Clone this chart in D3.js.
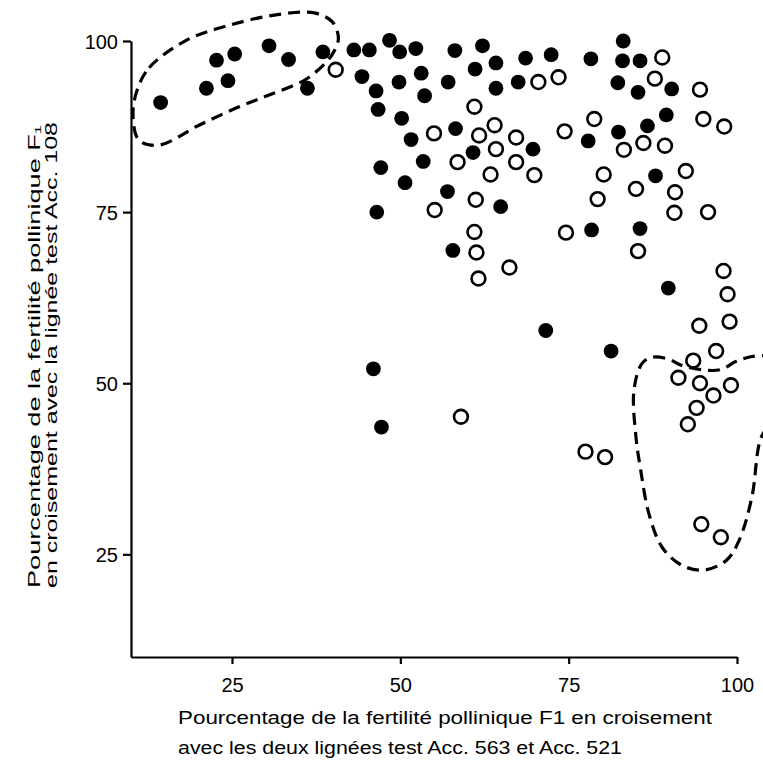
<!DOCTYPE html>
<html><head><meta charset="utf-8">
<script src="https://cdn.jsdelivr.net/npm/d3@7"></script>
<style>
body{margin:0;background:#fff}
svg text{font-family:"Liberation Sans",Arial,sans-serif;fill:#000}
</style>
</head><body>
<svg id="c" width="763" height="762"></svg>
<script>
// ---- data ----
const xTicks = [25, 50, 75, 100];
const yTicks = [25, 50, 75, 100];

const filledX = [14.4,21.2,22.7,24.4,25.4,30.5,33.4,38.5,36.2,43.1,45.4,48.4,49.9,52.3,58.1,62.2,68.6,72.4,
  44.3,46.4,49.8,53.1,57.1,61.1,64.2,64.2,67.5,53.6,46.7,50.2,51.6,58.2,60.8,69.7,53.4,47.1,50.7,57.0,46.5,64.9,57.8,
  78.3,83.1,83.0,85.6,82.3,85.3,90.3,89.5,86.7,82.4,77.9,87.9,78.4,85.6,89.8,71.6,81.3,46.0,47.2];
const filledY = [91.0,93.1,97.2,94.2,98.1,99.3,97.3,98.4,93.1,98.7,98.7,100.1,98.4,98.9,98.6,99.3,97.5,98.0,
  94.8,92.7,94.0,95.3,94.0,95.9,96.8,93.1,94.0,92.0,90.0,88.7,85.6,87.2,83.7,84.2,82.4,81.5,79.3,78.0,75.0,75.8,69.4,
  97.4,100.0,97.1,97.1,93.9,92.5,93.0,89.2,87.6,86.7,85.4,80.3,72.4,72.6,63.9,57.7,54.7,52.1,43.6];

const openX = [40.4,70.5,61.0,64.0,55.0,61.7,67.2,64.2,58.5,67.2,63.4,69.9,61.2,55.1,61.0,61.3,66.2,61.6,
  88.9,87.8,94.5,73.5,78.8,74.4,95.0,98.1,83.2,86.1,89.3,80.2,92.4,85.0,90.8,79.3,90.7,95.7,74.6,85.3,
  98.0,98.6,98.9,94.4,96.9,93.5,91.3,94.5,99.1,96.5,94.0,92.7,59.0,77.5,80.4,94.7,97.6];
const openY = [95.8,94.0,90.4,87.7,86.5,86.2,85.9,84.2,82.3,82.3,80.5,80.4,76.8,75.3,72.1,69.1,66.9,65.3,
  97.6,94.5,92.9,94.7,88.6,86.8,88.6,87.5,84.1,85.1,84.7,80.5,81.0,78.4,77.9,76.9,74.9,75.0,72.0,69.3,
  66.4,63.0,59.0,58.4,54.7,53.3,50.8,50.0,49.7,48.2,46.4,44.0,45.1,40.0,39.2,29.4,27.5];

// dashed enclosing outlines (data units)
const loopAX = [10.9,12.7,18.2,24.6,32.0,37.2,39.9,40.8,40.1,38.7,35.8,30.5,25.6,20.1,14.2,11.2,10.3];
const loopAY = [92.8,96.1,100.1,102.3,103.9,104.1,102.8,100.4,98.4,96.6,94.3,92.1,90.2,87.7,84.8,85.5,89.2];
const loopBX = [105.5,102.2,99.9,97.6,95.4,91.8,89.9,87.4,85.9,84.7,85.0,85.7,86.9,88.9,91.8,95.1,98.4,100.3,102.2,103.6,105.5];
const loopBY = [54.1,53.9,53.2,52.0,51.9,52.6,53.5,53.8,52.9,49.0,42.1,37.3,31.0,26.0,23.4,22.7,24.1,27.0,33.3,42.1,44.6];

const xLabelLines = ["Pourcentage de la fertilité pollinique F1 en croisement",
                     "avec les deux lignées  test  Acc. 563  et  Acc. 521"];
const yLabelLines = ["Pourcentage de la fertilité pollinique F\u2081",
                     "en croisement avec la lignée test Acc. 108"];

// ---- drawing ----
const svg = d3.select("#c");
const x = d3.scaleLinear().domain([10, 100]).range([131, 737]);
const y = d3.scaleLinear().domain([10, 100]).range([657, 41]);

const line = d3.line().x(d => x(d[0])).y(d => y(d[1]));

svg.append("path")
  .attr("d", line.curve(d3.curveCatmullRomClosed.alpha(0.5))(loopAX.map((v,i)=>[v, loopAY[i]])))
  .attr("fill","none").attr("stroke","#000").attr("stroke-width",3.2)
  .attr("stroke-dasharray","12,7");
svg.append("path")
  .attr("d", line.curve(d3.curveCatmullRom.alpha(0.5))(loopBX.map((v,i)=>[v, loopBY[i]])))
  .attr("fill","none").attr("stroke","#000").attr("stroke-width",3.2)
  .attr("stroke-dasharray","12,7");

const xa = svg.append("g").attr("transform","translate(0,657)")
  .call(d3.axisBottom(x).tickValues(xTicks).tickSize(7).tickSizeOuter(0).tickPadding(14));
const ya = svg.append("g").attr("transform","translate(131,0)")
  .call(d3.axisLeft(y).tickValues(yTicks).tickSize(8).tickSizeOuter(0).tickPadding(5));
[xa, ya].forEach(g => {
  g.select(".domain").attr("stroke","#000").attr("stroke-width",2.2);
  g.selectAll(".tick line").attr("stroke","#000").attr("stroke-width",2.2);
  g.selectAll(".tick text").attr("font-size",20).attr("font-family","Liberation Sans, Arial, sans-serif").attr("fill","#000");
});
ya.selectAll(".tick text").attr("dy","0.35em");

svg.append("g").selectAll("circle").data(filledX.map((v,i)=>[v, filledY[i]]))
  .join("circle").attr("cx",d=>x(d[0])).attr("cy",d=>y(d[1])).attr("r",7.4).attr("fill","#000");
svg.append("g").selectAll("circle").data(openX.map((v,i)=>[v, openY[i]]))
  .join("circle").attr("cx",d=>x(d[0])).attr("cy",d=>y(d[1])).attr("r",6.9)
  .attr("fill","#fff").attr("stroke","#000").attr("stroke-width",2.6);

// axis titles
const xl = svg.append("g");
xl.append("text").attr("x",178).attr("y",724).attr("font-size",17.5)
  .attr("textLength",534).attr("lengthAdjust","spacingAndGlyphs").text(xLabelLines[0]);
xl.append("text").attr("x",178).attr("y",754).attr("font-size",17.5)
  .attr("textLength",444).attr("lengthAdjust","spacingAndGlyphs").text(xLabelLines[1]);

const yl = svg.append("g");
yl.append("text").attr("transform","translate(40,588) rotate(-90)").attr("font-size",16)
  .attr("textLength",463).attr("lengthAdjust","spacingAndGlyphs").text(yLabelLines[0]);
yl.append("text").attr("transform","translate(57,588) rotate(-90)").attr("font-size",16)
  .attr("textLength",466).attr("lengthAdjust","spacingAndGlyphs").text(yLabelLines[1]);
</script>
</body></html>
